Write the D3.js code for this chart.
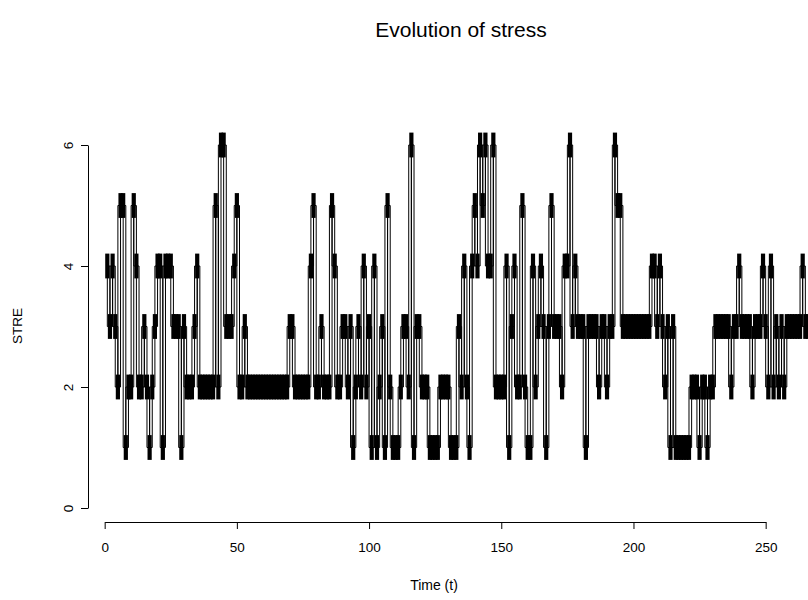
<!DOCTYPE html>
<html><head><meta charset="utf-8">
<script src="https://cdn.jsdelivr.net/npm/d3@7"></script>
<style>
body{margin:0;background:#fff}
svg{display:block}
text{font-family:"Liberation Sans",Arial,Helvetica,sans-serif;fill:#000}
</style>
</head><body>
<svg id="c" width="808" height="600"></svg>
<script>
// ---- data (STRE value at each time step t = 1, 2, 3, ...) ----
const stress = [
  4,3,4,3,2,5,5,1,2,2, 5,4,2,2,3,2,1,2,3,4,
  4,1,4,4,4,3,3,3,1,3, 2,2,2,3,4,2,2,2,2,2,
  2,5,2,6,6,3,3,3,4,5, 2,2,3,2,2,2,2,2,2,2,
  2,2,2,2,2,2,2,2,2,3, 3,2,2,2,2,2,2,4,5,2,
  2,3,2,2,2,5,4,2,2,3, 3,2,3,1,2,3,2,4,2,3,
  1,4,1,2,3,1,5,2,1,1, 1,2,3,3,2,6,1,3,3,2,
  2,2,1,1,1,1,2,2,2,2, 1,1,1,3,2,4,2,1,4,5,
  4,6,5,6,4,4,6,2,2,2, 2,4,1,3,4,2,2,5,2,1,
  1,4,2,3,4,3,1,3,5,3, 3,3,2,4,4,6,3,4,3,3,
  3,1,3,3,3,3,2,3,3,2, 3,3,6,5,5,3,3,3,3,3,
  3,3,3,3,3,3,4,4,3,4, 3,2,3,1,3,1,1,1,1,1,
  1,2,2,2,1,2,2,1,2,2, 3,3,3,3,3,3,2,3,3,4,
  3,3,3,3,2,3,3,3,4,3, 2,4,2,3,2,3,2,3,3,3,
  3,3,3,4,3,3,3
];
const xTicks = [0, 50, 100, 150, 200, 250];
const yTicks = [0, 2, 4, 6];
const titleText = "Evolution of stress";
const xTitle = "Time (t)";
const yTitle = "STRE";

const data = stress.map((v, i) => ({t: i + 1, v: v}));

const svg = d3.select("#c");
const x = d3.scaleLinear().domain([0, 250]).range([104.67, 765.67]);
const y = d3.scaleLinear().domain([0, 6]).range([508, 145]);

// clip to plot region
svg.append("defs").append("clipPath").attr("id", "plotclip")
  .append("rect").attr("x", 88).attr("y", y(6.24)).attr("width", 800).attr("height", y(-0.24) - y(6.24));

const g = svg.append("g").attr("clip-path", "url(#plotclip)");

// step lines (both step directions)
const lineAfter = d3.line().x(d => x(d.t)).y(d => y(d.v)).curve(d3.curveStepAfter);
const lineBefore = d3.line().x(d => x(d.t)).y(d => y(d.v)).curve(d3.curveStepBefore);
g.append("path").attr("d", lineAfter(data)).attr("fill", "none").attr("stroke", "#000").attr("stroke-width", 1);
g.append("path").attr("d", lineBefore(data)).attr("fill", "none").attr("stroke", "#000").attr("stroke-width", 1);

// bar glyph at each observation
const half = 0.205;
g.selectAll("rect.pt").data(data).join("rect")
  .attr("class", "pt")
  .attr("x", d => x(d.t) - 2.1)
  .attr("width", 4.2)
  .attr("y", d => y(d.v + half))
  .attr("height", d => y(d.v - half) - y(d.v + half))
  .attr("fill", "#000");

// axes
const fontStack = '"Liberation Sans",Arial,sans-serif';
const xAxis = d3.axisBottom(x).tickValues(xTicks).tickFormat(d3.format("d"))
  .tickSize(7).tickSizeOuter(0).tickPadding(13);
const gx = svg.append("g").attr("transform", "translate(0,522)").call(xAxis);
gx.selectAll("text").style("font-size", "13.5px").style("font-family", fontStack);
gx.selectAll("path,line").attr("stroke", "#000");

const yAxis = d3.axisLeft(y).tickValues(yTicks).tickFormat(d3.format("d"))
  .tickSize(7).tickSizeOuter(0);
const gy = svg.append("g").attr("transform", "translate(88,0)").call(yAxis);
gy.selectAll("path,line").attr("stroke", "#000");
gy.selectAll("text")
  .style("font-size", "13.5px").style("font-family", fontStack)
  .attr("x", null).attr("dy", null).attr("y", 0)
  .attr("text-anchor", "middle")
  .attr("transform", "translate(-15,0) rotate(-90)");

// titles
svg.append("text").attr("x", 461).attr("y", 37).attr("text-anchor", "middle")
  .style("font-size", "21px").text(titleText);
svg.append("text").attr("x", 434).attr("y", 590).attr("text-anchor", "middle")
  .style("font-size", "14px").text(xTitle);
svg.append("text").attr("transform", "translate(22,326) rotate(-90)").attr("text-anchor", "middle")
  .style("font-size", "13.5px").text(yTitle);
</script>
</body></html>
